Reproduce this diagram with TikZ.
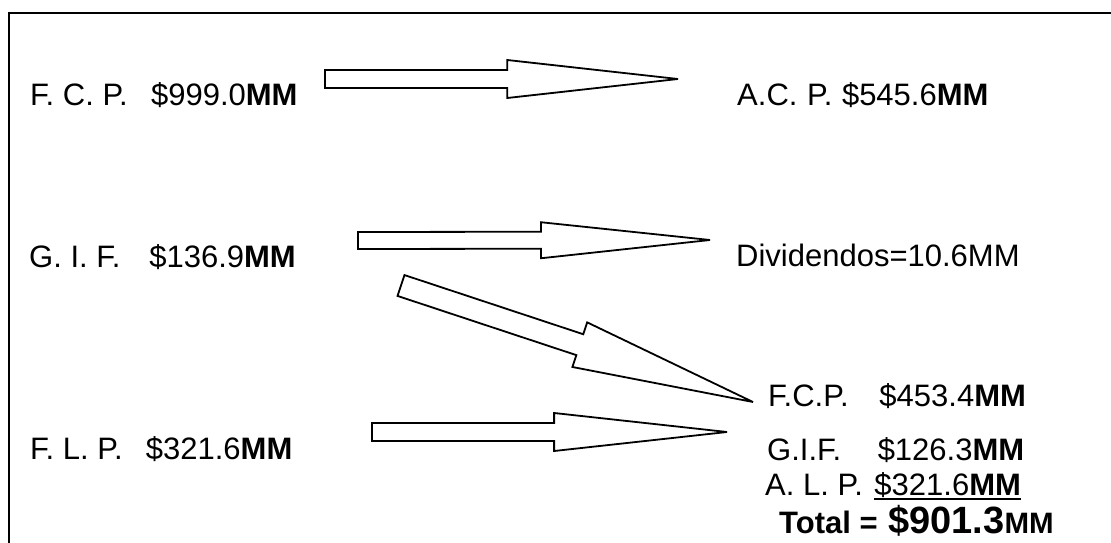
\documentclass[tikz,border=0pt]{standalone}
\usepackage{fontspec}
\setmainfont{Liberation Sans}
\usetikzlibrary{calc}

% thick underline placed a few points below the baseline
\newcommand\thickul[1]{\setbox0\hbox{#1}\rlap{\rule[-4.5pt]{\wd0}{1.8pt}}\box0}

% outlined block arrow: tail, tip, head-base fraction, shaft half width, head half width
\newcommand\fatarrow[5]{%
  \coordinate (#1-hb) at ($(#1)!#3!(#2)$);
  \draw[blockarrow]
    ($(#1)!#4!90:(#2)$) -- ($(#1-hb)!#4!90:(#2)$) -- ($(#1-hb)!#5!90:(#2)$)
    -- (#2)
    -- ($(#1-hb)!#5!-90:(#2)$) -- ($(#1-hb)!#4!-90:(#2)$) -- ($(#1)!#4!-90:(#2)$)
    -- cycle;}

\begin{document}
\begin{tikzpicture}[x=1pt,y=-1pt,
  label/.style={anchor=base west,inner sep=0pt,font=\fontsize{31}{36}\selectfont},
  blockarrow/.style={draw=black,fill=white,line width=1.8pt,miter limit=4},
  frame/.style={draw=black,line width=1.9pt}]
\useasboundingbox (0,0) rectangle (1111,543);

% open frame: left and top sides only
\draw[frame] (9,543) -- (9,13) -- (1111,13);

% left column
\node[label] (fcp) at (30,106) {F. C. P.~~\hspace{6pt}\$999.0\textbf{MM}};
\node[label] (gif) at (29,267) {G. I. F.~~~\hspace{3pt}\$136.9\textbf{MM}};
\node[label] (flp) at (30,459) {F. L. P.~~\hspace{6pt}\$321.6\textbf{MM}};

% right column
\node[label] (acp) at (737,105) {A.C.\hspace{1pt} P.\hspace{1pt} \$545.6\textbf{MM}};
\node[label] (div) at (736,266) {Dividendos=10.6MM};
\node[label] (rfcp) at (768,406) {F.C.P.~~~\hspace{5pt}\$453.4\textbf{MM}};
\node[label] (rgif) at (767,460) {G.I.F.~~~~\hspace{2pt}\$126.3\textbf{MM}};
\node[label] (ralp) at (765,495) {A. L. P.\hspace{3pt} \thickul{\$321.6\textbf{MM}}};
\node[label] (total) at (779,533) {\bfseries Total =\hspace{2pt} {\fontsize{38}{42}\selectfont\$901.3}{\fontsize{29.5}{32}\selectfont MM}};

% arrow ends
\coordinate (a1) at (325,79);    \coordinate (a1tip) at (678,79);
\coordinate (a2) at (358,240.5); \coordinate (a2tip) at (710,240);
\coordinate (a3) at (401,285.5); \coordinate (a3tip) at (753,402);
\coordinate (a4) at (372,432);   \coordinate (a4tip) at (727,432);

\fatarrow{a1}{a1tip}{0.516}{9pt}{19pt}
\fatarrow{a2}{a2tip}{0.52}{8.5pt}{18pt}
\fatarrow{a3}{a3tip}{0.508}{11pt}{23.5pt}
\fatarrow{a4}{a4tip}{0.513}{9pt}{19pt}
\end{tikzpicture}
\end{document}
